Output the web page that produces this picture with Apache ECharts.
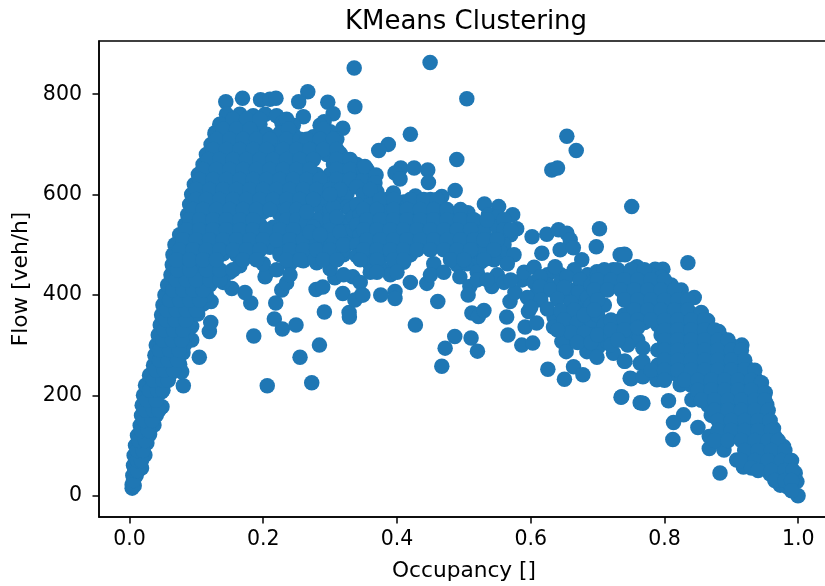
<!DOCTYPE html>
<html>
<head>
<meta charset="utf-8">
<title>KMeans Clustering</title>
<script src="https://cdn.jsdelivr.net/npm/echarts@6/dist/echarts.min.js"></script>
<style>
  html, body { margin: 0; padding: 0; background: #fff; overflow: hidden; }
  #chart { width: 825px; height: 586px; }
</style>
</head>
<body>
<div id="chart"></div>
<script>
// all values as [occupancy, flow]
const xTicks = [0, 0.2, 0.4, 0.6, 0.8, 1]
const yTicks = [0, 200, 400, 600, 800]

// isolated points above and below the main cloud
const outliers = [
  [.336,852],[.337,775],[.4495,863],[.5044,791],[.42,720],[.387,700],[.3727,688],[.4894,670],
  [.654,716],[.668,688],[.6315,649],[.64,653],[.751,576],[.7028,532],[.698,496],
  [.144,785],[.169,792],[.196,789],[.21,790],[.219,792],[.2666,805],[.253,785],[.2965,784],
  [.3045,761],[.291,745],[.319,732],[.26,755],[.128,723],
  [.206,219],[.2725,225],[.255,276],[.284,300],[.2914,366],[.3284,365],[.3288,356],
  [.1858,318],[.2166,352],[.2286,332],[.249,340],[.2187,384],[.1813,384],[.1727,405],[.153,413],
  [.0805,219],[.078,247],[.1044,276],[.093,310],[.093,337],[.1194,327],[.1215,345],[.122,387],
  [.4275,340],[.4864,317],[.5108,314],[.5203,288],[.472,294],[.467,258],
  [.6256,252],[.6504,232],[.664,257],[.678,241],[.735,196],[.7637,185]
]

// left limb, low occupancy, flow climbing with occupancy
const risingLimb = [
  [.004,15],[.004,22],[.007,20],[.005,40],[.01,40],[.006,60],[.014,60],[.018,55],[.007,80],[.016,80],[.023,81],
  [.009,100],[.018,100],[.026,105],[.012,120],[.022,120],[.03,122],[.016,140],[.026,140],[.0366,141],
  [.018,160],[.03,160],[.04,160],[.019,180],[.032,180],[.0486,177],[.021,200],[.035,200],[.048,207],
  [.024,220],[.038,220],[.05,220],[.03,240],[.045,240],[.06,240],[.036,260],[.05,260],[.065,260],[.075,262],
  [.038,280],[.052,280],[.066,280],[.08,285],[.04,300],[.054,300],[.068,300],[.082,300],
  [.043,320],[.057,320],[.071,320],[.085,320],[.046,340],[.06,340],[.074,340],[.09,345],
  [.048,360],[.062,360],[.076,360],[.09,360],[.102,362],[.05,380],[.064,380],[.08,380],[.095,380],[.11,382],
  [.053,400],[.07,400],[.085,400],[.1,400],[.115,400],[.057,420],[.073,420],[.09,420],[.105,420],[.12,420],[.14,425],
  [.062,440],[.08,440],[.095,440],[.11,440],[.13,440],[.15,445],[.064,460],[.085,460],[.105,460],[.125,460],[.165,458],
  [.2027,436],[.2052,444],[.2277,410],[.235,424],[.279,411],[.289,416],[.319,403],[.347,400],[.337,390],
  [.334,436],[.307,434],[.28,464],[.26,468],[.24,462],[.2,462],[.22,450],[.24,440],[.3,452],[.32,440],[.345,425]
]
const limbFill = [
  [.006,30],[.008,50],[.012,50],[.012,70],[.018,70],[.012,90],[.02,90],[.014,110],[.024,110],[.018,130],[.028,130],
  [.022,150],[.034,150],[.024,170],[.036,170],[.044,170],[.026,190],[.04,190],[.03,210],[.042,210],[.05,210],
  [.036,230],[.05,230],[.058,230],[.04,250],[.052,250],[.066,250],[.045,270],[.058,270],[.072,270],
  [.045,290],[.06,290],[.074,290],[.05,310],[.064,310],[.078,310],[.052,330],[.066,330],[.08,330],
  [.055,350],[.068,350],[.084,350],[.056,370],[.07,370],[.085,370],[.1,370],[.06,390],[.075,390],[.09,390],[.105,390],
  [.065,410],[.08,410],[.095,410],[.11,410],[.07,430],[.085,430],[.1,430],[.12,430],[.135,430],
  [.072,450],[.09,450],[.115,450],[.135,450],[.155,450]
]

// dense cloud around the flow maximum
const peakCloud = [
  [.145,760],[.165,760],[.185,757],[.203,760],[.22,757],[.135,740],[.155,740],[.175,740],[.195,740],[.228,742],[.245,738],[.285,738],[.3,725],
  [.128,720],[.145,720],[.165,720],[.185,720],[.205,720],[.225,722],[.245,720],[.275,715],[.295,718],[.31,710],
  [.122,700],[.14,700],[.16,700],[.18,700],[.2,700],[.22,698],[.24,700],[.26,700],[.28,700],[.3,700],
  [.115,680],[.135,680],[.155,680],[.175,680],[.195,680],[.215,680],[.235,680],[.255,680],[.275,680],[.295,680],[.315,682],
  [.11,660],[.125,660],[.145,660],[.165,660],[.185,660],[.205,660],[.225,660],[.245,660],[.265,660],[.305,660],[.325,670],[.34,660],
  [.103,640],[.12,640],[.14,640],[.16,640],[.18,640],[.2,640],[.22,640],[.24,640],[.26,640],[.28,640],[.3,640],[.32,640],[.34,640],[.355,650],
  [.097,620],[.115,620],[.135,620],[.155,620],[.175,620],[.195,620],[.215,620],[.235,620],[.255,620],[.275,620],[.295,620],[.31,625],[.33,620],[.35,625],
  [.093,600],[.11,600],[.13,600],[.15,600],[.17,600],[.19,600],[.21,600],[.23,600],[.25,600],[.27,600],[.285,595],[.31,590],[.325,600],
  [.09,580],[.105,580],[.125,580],[.145,580],[.165,580],[.185,580],[.205,580],[.225,580],[.245,580],[.265,580],[.285,575],[.325,575],
  [.087,560],[.1,560],[.12,560],[.14,560],[.16,560],[.18,560],[.2,565],[.225,560],[.245,560],[.255,555],[.29,555],[.32,545],
  [.083,540],[.095,540],[.115,540],[.135,540],[.155,540],[.175,540],[.195,540],[.215,535],[.235,540],[.255,535],[.29,535],[.31,535],
  [.075,520],[.09,520],[.11,520],[.13,520],[.15,520],[.17,520],[.19,520],[.21,515],[.23,520],[.25,515],[.27,510],[.295,515],[.315,510],
  [.068,500],[.085,500],[.105,500],[.125,500],[.145,500],[.165,500],[.185,500],[.21,495],[.23,500],[.25,495],[.27,490],[.29,495],[.31,490],
  [.065,480],[.08,480],[.1,480],[.12,480],[.14,482],[.16,480],[.18,480],[.225,480],[.245,480],[.27,475],[.3,480],[.32,480]
]
const peakFill = [
  [.155,750],[.175,750],[.195,750],[.235,750],[.14,730],[.16,730],[.18,730],[.238,730],[.29,730],
  [.13,710],[.15,710],[.17,710],[.19,710],[.21,710],[.235,710],[.255,710],[.265,710],[.285,710],[.305,710],
  [.125,690],[.145,690],[.165,690],[.185,690],[.205,690],[.23,690],[.25,690],[.27,690],[.29,690],[.31,690],
  [.118,670],[.135,670],[.155,670],[.175,670],[.195,670],[.215,670],[.235,670],[.255,670],[.275,670],[.31,670],[.33,670],
  [.11,650],[.13,650],[.15,650],[.17,650],[.19,650],[.21,650],[.23,650],[.25,650],[.27,650],[.31,650],[.33,650],[.35,650],
  [.105,630],[.125,630],[.145,630],[.165,630],[.185,630],[.205,630],[.225,630],[.245,630],[.265,630],[.285,630],[.31,630],[.33,630],[.35,630],
  [.1,610],[.12,610],[.14,610],[.16,610],[.18,610],[.2,610],[.22,610],[.24,610],[.26,610],[.28,610],[.3,610],[.315,610],
  [.1,590],[.115,590],[.135,590],[.155,590],[.175,590],[.195,590],[.215,590],[.235,590],[.255,590],[.275,590],[.295,590],
  [.095,570],[.11,570],[.13,570],[.15,570],[.17,570],[.19,570],[.21,570],[.235,570],[.25,570],[.3,570],[.33,570],
  [.09,550],[.105,550],[.125,550],[.145,550],[.165,550],[.185,550],[.235,550],[.25,550],[.28,550],[.3,550],[.33,550],
  [.085,530],[.105,530],[.125,530],[.145,530],[.165,530],[.185,530],[.205,530],[.225,530],[.245,530],[.3,530],
  [.08,510],[.1,510],[.12,510],[.14,510],[.16,510],[.18,510],[.2,510],[.22,510],[.24,510],[.26,510],[.28,510],[.305,510],
  [.075,490],[.095,490],[.115,490],[.135,490],[.155,490],[.175,490],[.195,490],[.24,490],[.26,490],[.28,490],[.3,490],[.32,490],
  [.07,470],[.09,470],[.11,470],[.13,470],[.17,470],[.19,470],[.235,470],[.255,470],[.29,470],[.31,470],
  [.265,545],[.275,535],[.305,575],[.31,555],[.275,590],[.265,565],[.325,525],[.315,525],[.33,505],[.32,500],[.335,530],[.335,555],
  [.27,525],[.285,520],[.3,600],[.34,615]
]

// plateau between the two dense clouds
const plateauCloud = [
  [.352,656],[.3687,639],[.367,623],[.4057,653],[.397,643],[.4046,631],[.4256,653],[.446,649],[.447,624],[.3946,603],[.4275,597],
  [.467,596],[.487,608],[.506,564],[.5307,581],[.552,576],[.573,560],[.5367,560],[.579,532],
  [.35,600],[.37,605],[.385,590],[.41,585],[.43,580],[.45,590],[.465,575],[.34,580],[.36,580],
  [.345,560],[.365,560],[.385,565],[.405,565],[.425,560],[.445,565],[.465,555],[.485,560],
  [.34,540],[.36,540],[.38,540],[.4,540],[.42,540],[.44,540],[.46,540],[.48,540],[.5,540],[.52,545],[.55,555],
  [.345,520],[.365,520],[.385,520],[.405,520],[.425,520],[.445,520],[.465,520],[.485,520],[.505,525],[.53,530],[.55,535],[.57,520],
  [.34,500],[.36,505],[.38,500],[.4,500],[.42,500],[.44,500],[.46,500],[.48,500],[.5,500],[.52,505],[.54,510],[.56,500],
  [.34,478],[.355,480],[.385,480],[.405,480],[.42,480],[.49,480],[.515,485],[.53,490],[.555,485],[.575,480],
  [.36,460],[.375,455],[.395,460],[.41,465],[.455,462],[.49,460],[.505,462],[.525,465],[.545,470],[.565,462],
  [.36,445],[.39,440],[.42,425],[.4446,423],[.45,440],[.47,445],[.494,436],[.509,417],[.52,445],[.5418,417],[.55,440],[.56,425],
  [.569,387],[.5764,405],[.587,430],[.349,400],[.3757,400],[.397,407],[.397,393],[.461,387],[.5064,400],[.512,364],
  [.5218,357],[.53,369],[.564,356],[.566,320],[.5866,300],[.603,304],[.5916,336],[.6088,344],[.5966,367],
  [.602,516],[.624,521],[.6415,530],[.654,523],[.659,510],[.6166,483],[.644,490],[.6637,494],[.6763,470]
]
const plateauFill = [
  [.36,610],[.375,590],[.395,590],[.42,590],[.44,590],[.46,590],[.35,570],[.37,570],[.395,570],[.415,570],[.435,570],[.455,570],[.475,570],[.495,570],
  [.355,550],[.375,550],[.395,550],[.415,550],[.435,550],[.455,550],[.475,550],[.495,550],[.515,550],[.535,550],[.56,550],
  [.35,530],[.37,530],[.39,530],[.41,530],[.43,530],[.45,530],[.47,530],[.49,530],[.51,530],[.56,530],[.57,530],
  [.355,510],[.375,510],[.395,510],[.415,510],[.435,510],[.455,510],[.475,510],[.495,510],[.515,510],[.53,510],[.55,510],
  [.35,490],[.37,490],[.39,490],[.41,490],[.43,490],[.45,490],[.47,490],[.49,490],[.51,490],[.545,490],
  [.345,470],[.37,470],[.395,470],[.41,470],[.48,470],[.5,470],[.53,470],[.37,445],[.4,445],[.52,430],[.535,430],[.57,430],
  [.59,445],[.605,455],[.625,440],[.645,440],[.665,450],[.685,440],[.605,425],[.625,420],[.645,425],[.665,410],[.685,415],
  [.61,405],[.65,400],[.7,425],[.675,380],[.635,355],[.655,365],[.68,365],[.695,340],[.715,345],[.66,340],[.675,335],
  [.655,310],[.7,295],[.72,330],[.735,350],[.715,305],[.735,310],[.755,325],[.76,310]
]

// right side, congested branch down to zero flow
const congestedCloud = [
  [.7337,480],[.741,480],[.74,481],[.7976,451],[.786,451],[.835,464],[.614,436],[.6365,456],[.654,436],[.674,430],[.699,446],[.7235,450],[.7587,456],
  [.614,417],[.63,410],[.65,415],[.672,405],[.595,395],[.615,390],[.64,392],[.66,385],[.685,395],[.6,375],[.625,372],[.645,368],[.665,370],
  [.634,336],[.6465,307],[.653,287],[.684,287],[.699,276],[.703,320],[.7237,284],[.74,268],[.75,233],[.7637,264],
  [.65,350],[.67,345],[.69,350],[.66,325],[.68,325],[.64,330],[.67,305],[.69,305],
  [.70,440],[.72,440],[.74,440],[.76,440],[.78,440],[.795,435],
  [.69,420],[.71,420],[.73,420],[.75,420],[.77,420],[.79,420],[.81,420],[.825,410],[.8085,404],[.8445,395],
  [.70,400],[.74,400],[.76,400],[.78,400],[.80,400],[.82,395],
  [.69,380],[.71,380],[.75,380],[.77,380],[.79,380],[.81,380],[.83,380],[.826,367],[.846,360],
  [.68,360],[.70,360],[.74,360],[.76,360],[.78,360],[.80,360],[.82,360],[.84,355],[.8644,349],
  [.71,340],[.73,340],[.75,340],[.77,345],[.79,340],[.81,340],[.83,340],[.85,340],[.865,335],[.881,327],
  [.70,320],[.72,320],[.74,320],[.795,320],[.805,320],[.825,320],[.845,320],[.865,320],[.885,315],[.9157,300],[.903,297],
  [.72,300],[.745,300],[.7677,294],[.8,300],[.82,300],[.84,300],[.86,300],[.88,300],[.90,290],
  [.7677,267],[.79,290],[.81,280],[.83,280],[.85,280],[.87,280],[.89,280],[.9105,280],
  [.741,268],[.79,260],[.81,260],[.83,260],[.85,260],[.87,260],[.89,260],[.91,260],[.923,255],
  [.7487,234],[.7677,237],[.7886,231],[.8235,221],[.80,240],[.82,240],[.84,240],[.86,240],[.88,240],[.90,240],[.92,240],[.935,235],
  [.84,220],[.86,220],[.88,220],[.90,220],[.92,220],[.9406,227],[.841,191],[.85,200],[.87,200],[.89,200],[.91,200],[.93,200],[.9506,205],
  [.806,189],[.7677,184],[.736,197],[.8285,161],[.8135,146],[.8125,112],[.85,136],
  [.865,180],[.885,180],[.905,180],[.925,180],[.945,180],[.953,181],[.87,160],[.89,160],[.91,160],[.93,160],[.95,160],
  [.89,140],[.91,140],[.93,140],[.95,140],[.963,134],[.867,118],[.885,120],[.905,120],[.925,120],[.945,120],[.965,118],
  [.867,94],[.889,91],[.883,45],[.925,100],[.95,100],[.978,98],[.908,71],[.925,80],[.945,80],[.965,80],[.98,75],
  [.918,57],[.9308,58],[.958,43],[.95,60],[.97,60],[.985,60],[.973,21],[.983,18],[.975,40],[.99,40],[.9955,45],[.998,28],[.9997,0]
]
const congestedFill = [
  [.71,450],[.73,450],[.75,450],[.77,450],[.7,430],[.72,430],[.74,430],[.76,430],[.78,430],[.8,430],
  [.695,410],[.715,410],[.735,410],[.755,410],[.775,410],[.795,410],[.815,410],
  [.7,390],[.74,390],[.76,390],[.78,390],[.8,390],[.82,390],[.835,390],
  [.695,370],[.755,370],[.775,370],[.795,370],[.815,370],[.835,370],[.855,365],
  [.72,350],[.74,350],[.76,350],[.78,350],[.8,350],[.82,350],[.84,350],[.86,350],
  [.72,330],[.74,330],[.76,335],[.8,330],[.82,330],[.84,330],[.86,330],[.875,330],
  [.73,310],[.8,310],[.82,310],[.84,310],[.86,310],[.88,310],[.895,310],
  [.8,290],[.82,290],[.84,290],[.86,290],[.88,290],[.9,290],[.915,290],
  [.8,270],[.82,270],[.84,270],[.86,270],[.88,270],[.9,270],[.92,270],
  [.78,250],[.8,250],[.82,250],[.84,250],[.86,250],[.88,250],[.9,250],[.92,250],[.935,250],
  [.8,230],[.83,230],[.85,230],[.87,230],[.89,230],[.91,230],[.93,230],[.945,225],
  [.85,210],[.87,210],[.89,210],[.91,210],[.93,210],[.95,205],
  [.855,190],[.875,190],[.895,190],[.915,190],[.935,190],[.95,190],
  [.875,170],[.895,170],[.915,170],[.935,170],[.955,170],
  [.88,150],[.9,150],[.92,150],[.94,150],[.958,150],[.88,130],[.9,130],[.92,130],[.94,130],[.96,130],
  [.875,110],[.895,110],[.915,110],[.935,110],[.955,110],[.97,110],[.92,90],[.94,90],[.96,90],[.98,90],
  [.915,70],[.935,70],[.955,70],[.975,70],[.99,70],[.93,55],[.94,50],[.96,50],[.98,50],[.992,50],[.965,30],[.98,30],[.99,30],[.99,10]
]

const points = [
  ...outliers, ...risingLimb, ...limbFill, ...peakCloud, ...peakFill,
  ...plateauCloud, ...plateauFill, ...congestedCloud, ...congestedFill,
]

const chart = echarts.init(document.getElementById('chart'))
const textFont = { fontFamily: 'DejaVu Sans', color: '#000' }
const axisLine = { show: true, onZero: false, lineStyle: { color: '#000', width: 1.5 } }
const axisTick = { show: true, length: 6.5, lineStyle: { color: '#000', width: 1.5 } }

chart.setOption({
  animation: false,
  backgroundColor: '#fff',
  title: {
    text: 'KMeans Clustering',
    left: 461,
    top: 4,
    textAlign: 'center',
    textStyle: { ...textFont, fontSize: 26, fontWeight: 'normal' },
  },
  // the right spine falls just outside the picture, as in the reference
  grid: {
    left: 99,
    top: 41,
    width: 730,
    height: 476,
    show: true,
    borderColor: '#000',
    borderWidth: 1.5,
    outerBoundsMode: 'none',
  },
  xAxis: {
    type: 'value',
    min: -0.0456,
    max: 1.046,
    name: 'Occupancy []',
    nameLocation: 'middle',
    nameGap: 43,
    nameTextStyle: { ...textFont, fontSize: 21.7 },
    splitLine: { show: false },
    axisLine,
    axisTick: { ...axisTick, customValues: xTicks },
    axisLabel: {
      ...textFont,
      fontSize: 20.5,
      margin: 12,
      customValues: xTicks,
      formatter: (v) => v.toFixed(1),
    },
  },
  yAxis: {
    type: 'value',
    min: -42.5,
    max: 906,
    name: 'Flow [veh/h]',
    nameLocation: 'middle',
    nameGap: 66,
    nameTextStyle: { ...textFont, fontSize: 21.7 },
    splitLine: { show: false },
    axisLine,
    axisTick: { ...axisTick, customValues: yTicks },
    axisLabel: {
      ...textFont,
      fontSize: 20.5,
      margin: 17,
      customValues: yTicks,
      formatter: (v) => String(v),
    },
  },
  series: [
    {
      type: 'scatter',
      data: points,
      symbolSize: 15.5,
      itemStyle: { color: '#1f77b4', opacity: 1 },
    },
  ],
})
</script>
</body>
</html>
